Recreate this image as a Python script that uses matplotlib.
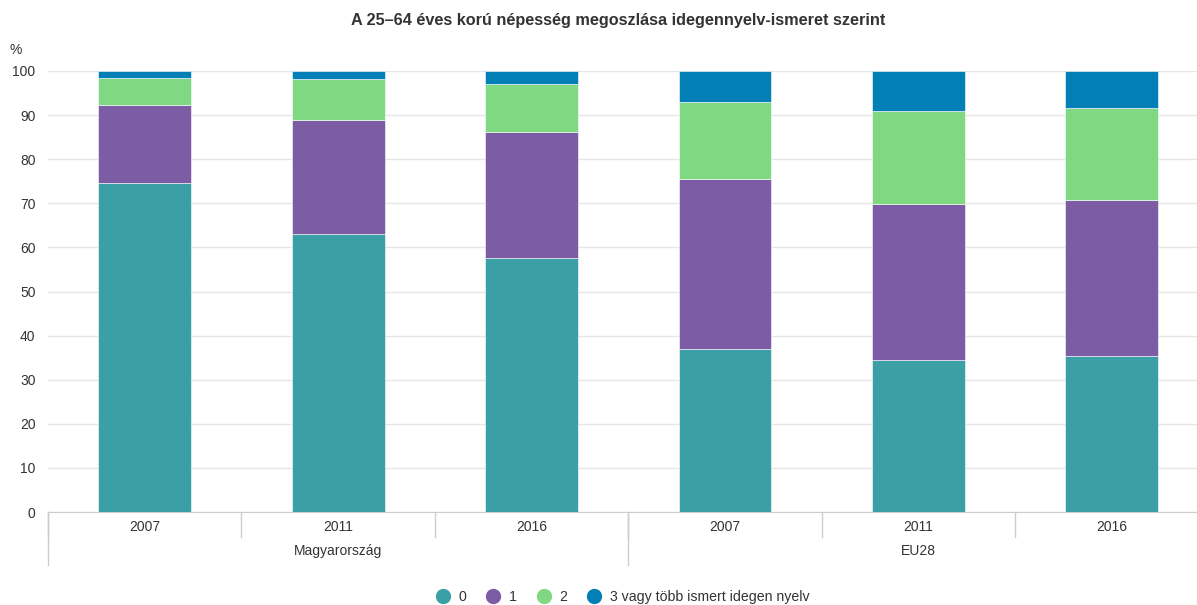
import matplotlib.pyplot as plt
from matplotlib.lines import Line2D
import numpy as np

plt.rcParams['font.family'] = ['Liberation Sans', 'DejaVu Sans']

# adatok (%)
years = ['2007', '2011', '2016', '2007', '2011', '2016']
groups = ['Magyarország', 'EU28']
series_names = ['0', '1', '2', '3 vagy több ismert idegen nyelv']
s0 = [74.5, 63.0, 57.6, 37.0, 34.5, 35.4]
s1 = [17.8, 25.9, 28.6, 38.4, 35.3, 35.3]
s2 = [6.1, 9.3, 10.9, 17.6, 21.1, 21.0]
s3 = [1.6, 1.8, 2.9, 7.0, 9.1, 8.3]
colors = ['#3aa0a5', '#7d5ca6', '#80d882', '#027fb5']

fig = plt.figure(figsize=(11.97, 6.05), dpi=100)
ax = fig.add_axes([48 / 1197, 93 / 605, 1149 / 1197, 441 / 605])

x = np.arange(len(years))
bottom = np.zeros(len(years))
for vals, c in zip([s0, s1, s2, s3], colors):
    ax.bar(x, vals, width=0.48, bottom=bottom, color=c, edgecolor='white',
           linewidth=0.4, zorder=3)
    bottom += np.array(vals)

ax.set_ylim(0, 100)
ax.set_xlim(-0.5, 5.44)
ax.set_yticks(range(0, 101, 10))
ax.yaxis.grid(True, color='#e6e6e6', linewidth=1, zorder=0)
ax.tick_params(axis='y', length=0, pad=9, labelsize=10, labelcolor='#333333')
ax.set_xticks([])
for s in ['top', 'right', 'left']:
    ax.spines[s].set_visible(False)
ax.spines['bottom'].set_color('#cccccc')

# kategória-tengely: évek és csoportok
tr = ax.get_xaxis_transform()
for i in range(len(years)):
    ax.plot([i - 0.5, i - 0.5], [0, -0.057], transform=tr, color='#cccccc',
            linewidth=1, clip_on=False)
    ax.text(i, -0.034, years[i], transform=tr, ha='center', va='center',
            fontsize=10, color='#333333')
for g, name in enumerate(groups):
    left = g * 3 - 0.5
    ax.plot([left, left], [0, -0.12], transform=tr, color='#cccccc',
            linewidth=1, clip_on=False)
    ax.text(g * 3 + 1, -0.088, name, transform=tr, ha='center', va='center',
            fontsize=10, color='#333333')

fig.text(16 / 1197, 1 - 50 / 605, '%', ha='center', va='center', fontsize=10,
         color='#333333')
fig.text(618 / 1197, 1 - 20 / 605,
         'A 25–64 éves korú népesség megoszlása idegennyelv-ismeret szerint',
         ha='center', va='center', fontsize=11.7, fontweight='bold', color='#333333')

handles = [Line2D([], [], marker='o', linestyle='', markersize=10,
                  markerfacecolor=c, markeredgecolor=c) for c in colors]
fig.legend(handles, series_names, loc='center', bbox_to_anchor=(619 / 1197, 1 - 597 / 605),
           ncol=4, frameon=False, fontsize=10.2, handletextpad=0.1,
           columnspacing=0.9, labelcolor='#333333')

plt.savefig('out.png', dpi=100)
